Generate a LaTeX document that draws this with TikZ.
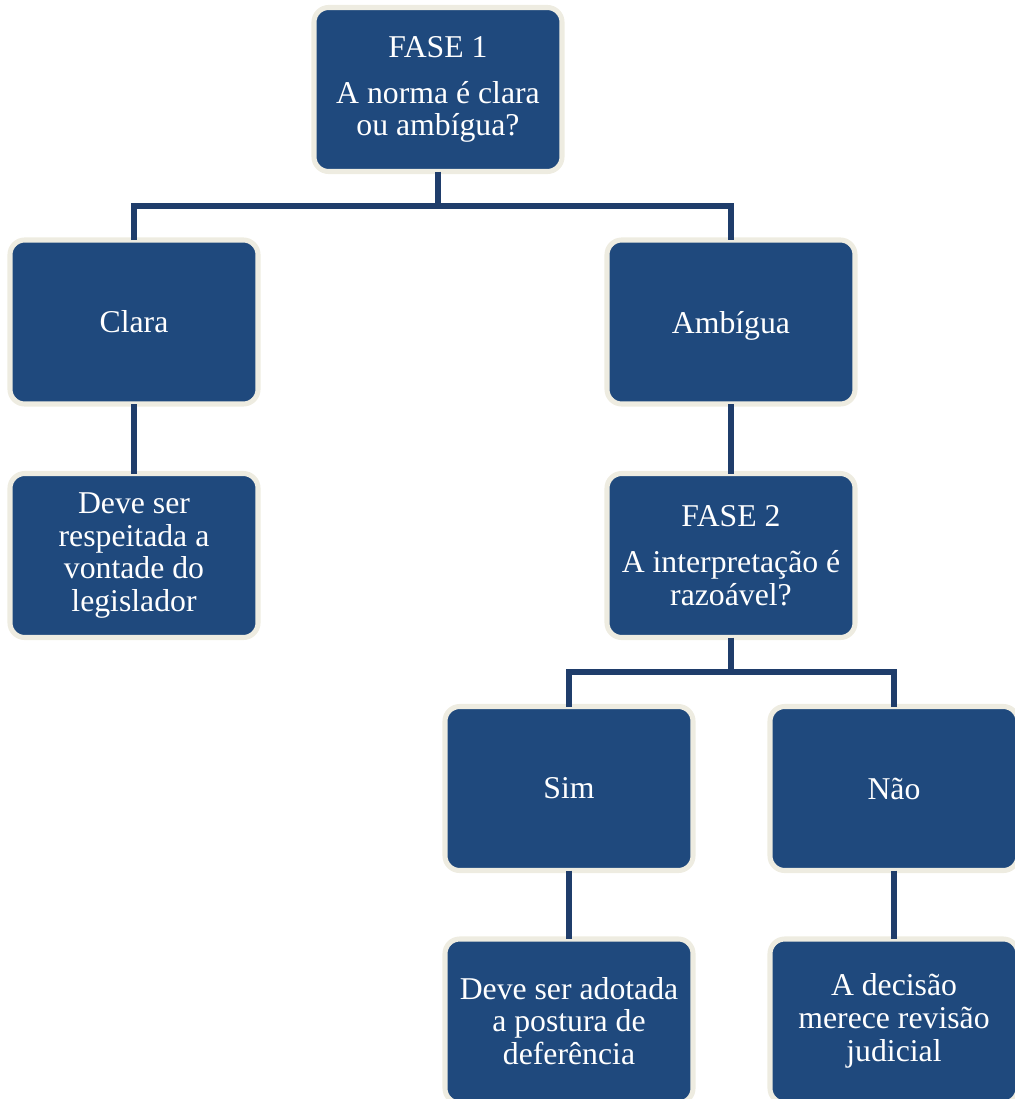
\documentclass[tikz,border=0pt]{standalone}
\usepackage{fontspec}
\setmainfont{Liberation Serif}
\definecolor{boxblue}{HTML}{1F497D}
\definecolor{cream}{HTML}{EEECE1}
\definecolor{linkblue}{HTML}{1F3D6B}
\begin{document}
\begin{tikzpicture}[x=0.75pt,y=-0.75pt,
  box/.style={draw=cream, fill=boxblue, line width=3.8pt, rounded corners=11pt,
    minimum width=186pt, minimum height=123pt, text=white, align=center,
    font=\fontsize{23.8pt}{24.5pt}\selectfont, inner sep=2pt, outer sep=0pt},
  conn/.style={draw=linkblue, line width=3.8pt}]
\useasboundingbox (0,0) rectangle (1014,1099);
\coordinate (j1) at (438,206);
\coordinate (j2) at (731,672);
\node[box] (f1) at (438,89.5) {FASE 1\\[10pt]A norma é clara\\ou ambígua?};
\node[box] (clara) at (134,322) {Clara};
\node[box] (amb) at (731,322) {\raisebox{0pt}[\height][0pt]{Ambígua}};
\node[box] (deve1) at (134,555.5) {Deve ser\\respeitada a\\vontade do\\legislador};
\node[box] (f2) at (731,555.5) {FASE 2\\[10pt]A interpretação é\\razoável?};
\node[box] (sim) at (569,788.5) {Sim};
\node[box] (nao) at (894,788.5) {Não};
\node[box] (deve2) at (569,1021) {Deve ser adotada\\a postura de\\deferência};
\node[box] (dec) at (894,1021) {A decisão\\merece revisão\\judicial};
\draw[conn] (f1.south) -- (j1);
\draw[conn] (clara.north) |- (j1) -| (amb.north);
\draw[conn] (clara.south) -- (deve1.north);
\draw[conn] (amb.south) -- (f2.north);
\draw[conn] (f2.south) -- (j2);
\draw[conn] (sim.north) |- (j2) -| (nao.north);
\draw[conn] (sim.south) -- (deve2.north);
\draw[conn] (nao.south) -- (dec.north);
\end{tikzpicture}
\end{document}
